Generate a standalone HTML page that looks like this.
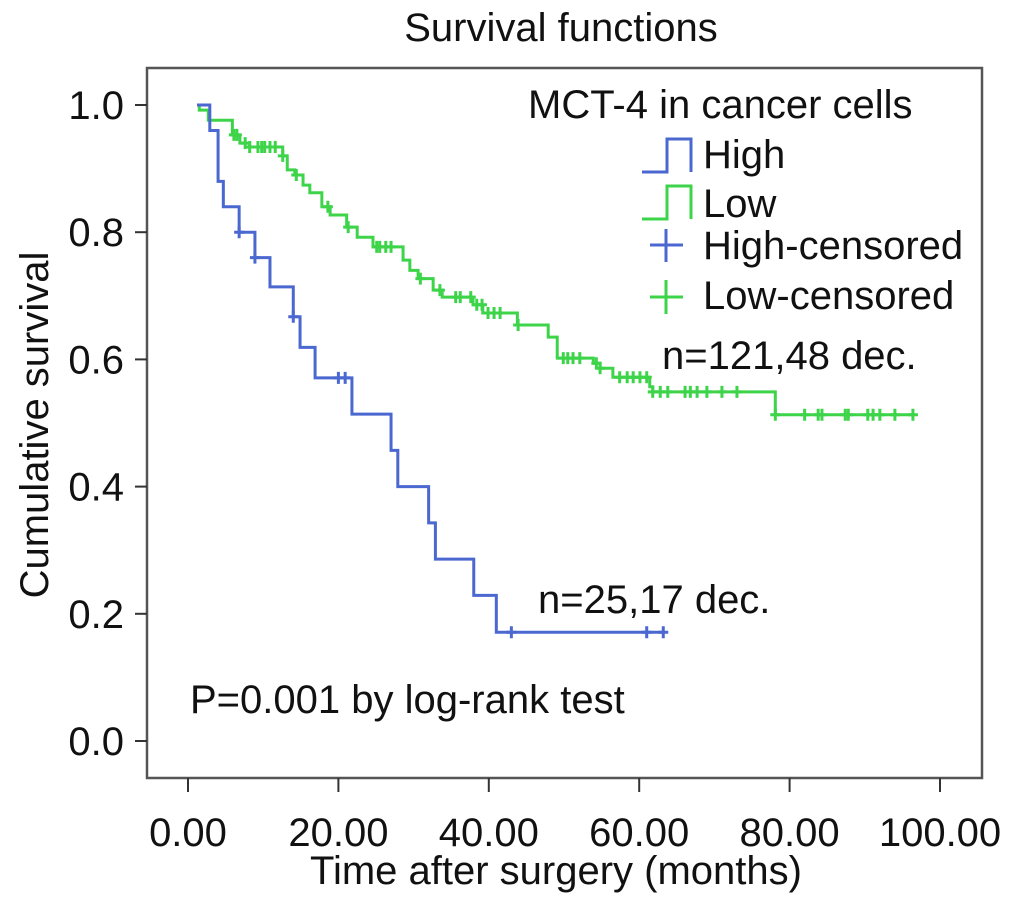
<!DOCTYPE html>
<html><head><meta charset="utf-8"><style>
html,body{margin:0;padding:0;background:#fff;}
svg text{font-family:"Liberation Sans",sans-serif;fill:#111;}
</style></head><body>
<svg id="chart" width="1016" height="902" viewBox="0 0 1016 902" xmlns="http://www.w3.org/2000/svg">
<rect x="0" y="0" width="1016" height="902" fill="#fff"/>
<text x="561" y="41" font-size="40" text-anchor="middle">Survival functions</text>
<rect x="147" y="68" width="835" height="710" fill="none" stroke="#555" stroke-width="2.5"/>
<g id="axes"></g>
<g id="series"></g>
<text transform="translate(48,425) rotate(-90)" font-size="40" text-anchor="middle">Cumulative survival</text>
<text x="556" y="884" font-size="40" text-anchor="middle">Time after surgery (months)</text>
<g>
<text x="528" y="118" font-size="40">MCT-4 in cancer cells</text>
<g>
<path d="M642,172 H667 V139 H691 V172" fill="none" stroke="#4a68d0" stroke-width="3"/>
<text x="703" y="168" font-size="40">High</text></g>
<g>
<path d="M642,219 H667 V186 H691 V219" fill="none" stroke="#3ed44a" stroke-width="3"/>
<text x="703" y="217" font-size="40">Low</text></g>
<g>
<path d="M650,245 H683 M666,229 V262" stroke="#4a68d0" stroke-width="3"/>
<text x="703" y="259" font-size="40">High-censored</text></g>
<g>
<path d="M650,297 H683 M666,280 V314" stroke="#3ed44a" stroke-width="3"/>
<text x="703" y="309" font-size="40">Low-censored</text></g>
</g>
<text x="662" y="369" font-size="40">n=121,48 dec.</text>
<text x="538" y="613" font-size="40">n=25,17 dec.</text>
<text x="190" y="713" font-size="40">P=0.001 by log-rank test</text>
</svg>
<script>
const xTicks=[0,20,40,60,80,100];
const xTickLabels=["0.00","20.00","40.00","60.00","80.00","100.00"];
const yTicks=[0,0.2,0.4,0.6,0.8,1.0];
const yTickLabels=["0.0","0.2","0.4","0.6","0.8","1.0"];
const highStart=1.2, highEnd=63.4;
const highTimes=[2.9,4.0,4.7,6.8,8.9,10.9,14.0,14.9,16.9,21.8,27.0,27.9,32.0,32.9,38.0,41.0];
const highSurv=[0.96,0.88,0.84,0.80,0.76,0.714,0.667,0.619,0.571,0.514,0.457,0.40,0.343,0.286,0.229,0.171];
const highCensor=[6.8,8.9,14.0,20.0,20.9,43.0,61.0,63.2];
const lowStart=1.2, lowEnd=96.4;
const lowTimes=[1.5,2.7,5.9,6.9,8.2,12.6,13.2,14.2,15.3,16.2,17.8,18.9,21.1,22.5,24.6,28.6,29.5,30.6,32.6,33.8,37.9,39.2,43.8,47.9,49.1,53.9,54.8,56.5,61.4,61.8,78.1];
const lowSurv=[0.992,0.976,0.953,0.94,0.934,0.92,0.898,0.89,0.874,0.862,0.84,0.827,0.808,0.792,0.777,0.756,0.74,0.727,0.709,0.698,0.686,0.673,0.654,0.635,0.602,0.594,0.586,0.572,0.557,0.549,0.513];
const lowCensor=[6.1,6.5,7.6,8.2,9.3,9.8,10.2,10.9,11.6,12.6,14.4,18.6,21.3,25.1,25.5,26.3,27.0,30.9,33.5,35.6,36.2,37.6,38.4,39.1,39.9,40.7,41.5,43.9,49.9,50.5,51.2,52.1,54.3,54.8,57.4,58.4,59.2,60.1,61.0,61.8,62.8,63.8,66.1,66.8,67.7,69.0,71.0,73.0,78.1,82.0,83.8,84.3,87.4,87.8,90.4,91.1,92.0,94.0,96.4];

const NS="http://www.w3.org/2000/svg";
const X=m=>188+m*7.52;
const Y=s=>741-s*636;
const axes=document.getElementById('axes');
const series=document.getElementById('series');
function mk(tag,attrs,parent){const e=document.createElementNS(NS,tag);for(const k in attrs)e.setAttribute(k,attrs[k]);parent.appendChild(e);return e;}
xTicks.forEach((t,i)=>{
  const l=mk('line',{x1:X(t),x2:X(t),y1:778,y2:792,stroke:'#333','stroke-width':2},axes);
  
  
  const tx=mk('text',{x:X(t),y:846,'font-size':40,'text-anchor':'middle'},axes);
  tx.textContent=xTickLabels[i];
  
  
});
yTicks.forEach((t,i)=>{
  const l=mk('line',{x1:135,x2:147,y1:Y(t),y2:Y(t),stroke:'#333','stroke-width':2},axes);
  
  
  const tx=mk('text',{x:124,y:Y(t)+14,'font-size':40,'text-anchor':'end'},axes);
  tx.textContent=yTickLabels[i];
  
  
});
function survAt(times,surv,t){let s=1;for(let i=0;i<times.length;i++){if(times[i]<=t)s=surv[i];}return s;}
function drawCurve(times,surv,start,end,censor,color,name){
  let d='M'+X(start)+','+Y(1);
  times.forEach((t,i)=>{d+=' H'+X(t)+' V'+Y(surv[i]);});
  d+=' H'+X(end);
  const p=mk('path',{d:d,fill:'none',stroke:color,'stroke-width':3},series);
  
  
  censor.forEach(c=>{
    const y=Y(survAt(times,surv,c)),x=X(c);
    const m=mk('path',{d:'M'+(x-5)+','+y+' H'+(x+5)+' M'+x+','+(y-6)+' V'+(y+6),stroke:color,'stroke-width':3},series);
    
    
  });
}
drawCurve(lowTimes,lowSurv,lowStart,lowEnd,lowCensor,'#3ed44a','low');
drawCurve(highTimes,highSurv,highStart,highEnd,highCensor,'#4a68d0','high');
</script>
</body></html>
